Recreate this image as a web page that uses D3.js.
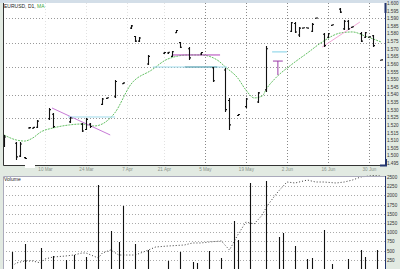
<!DOCTYPE html>
<html>
<head>
<meta charset="utf-8">
<script src="https://cdn.jsdelivr.net/npm/d3@7"></script>
<style>
body { margin: 0; background: #e2eae2; }
svg { display: block; font-family: "Liberation Sans", Arial, sans-serif; }
</style>
</head>
<body>
<div id="chart"></div>
<script>
var width = 400,
height = 269,
left = 3,
right = 385,
priceTop = 3,
priceBottom = 165,
volTop = 176,
volBottom = 269;

// price bars: [day, open, high, low, close]
var bars = [
  [0, 1.5101, 1.5134, 1.5055, 1.5121],
  [3, 1.5080, 1.5088, 1.4970, 1.4990],
  [4, 1.4995, 1.5088, 1.4990, 1.5075],
  [5, 1.4985, 1.4990, 1.4977, 1.4980],
  [6, 1.5180, 1.5187, 1.5174, 1.5182],
  [7, 1.5178, 1.5187, 1.5174, 1.5184],
  [8, 1.5185, 1.5232, 1.5180, 1.5225],
  [11, 1.5240, 1.5311, 1.5232, 1.5300],
  [12, 1.5270, 1.5278, 1.5180, 1.5190],
  [16, 1.5220, 1.5252, 1.5213, 1.5245],
  [19, 1.5205, 1.5213, 1.5154, 1.5160],
  [20, 1.5170, 1.5246, 1.5167, 1.5235],
  [21, 1.5205, 1.5213, 1.5180, 1.5190],
  [24, 1.5335, 1.5377, 1.5331, 1.5370],
  [25, 1.5374, 1.5380, 1.5372, 1.5378],
  [27, 1.5385, 1.5495, 1.5377, 1.5485],
  [29, 1.5470, 1.5478, 1.5469, 1.5476],
  [31, 1.5835, 1.5856, 1.5830, 1.5850],
  [32, 1.5780, 1.5784, 1.5744, 1.5750],
  [33, 1.5750, 1.5777, 1.5744, 1.5770],
  [35, 1.5600, 1.5659, 1.5593, 1.5650],
  [39, 1.5670, 1.5679, 1.5666, 1.5675],
  [40, 1.5672, 1.5679, 1.5666, 1.5677],
  [41, 1.5650, 1.5685, 1.5646, 1.5680],
  [42, 1.5805, 1.5823, 1.5803, 1.5820],
  [43, 1.5740, 1.5744, 1.5705, 1.5710],
  [45, 1.5700, 1.5711, 1.5626, 1.5640],
  [48, 1.5665, 1.5679, 1.5659, 1.5675],
  [51, 1.5575, 1.5580, 1.5482, 1.5490],
  [54, 1.5560, 1.5573, 1.5285, 1.5300],
  [55, 1.5360, 1.5377, 1.5167, 1.5200],
  [57, 1.5262, 1.5272, 1.5259, 1.5268],
  [59, 1.5320, 1.5377, 1.5311, 1.5370],
  [62, 1.5350, 1.5416, 1.5344, 1.5410],
  [64, 1.5430, 1.5718, 1.5416, 1.5700],
  [70, 1.5815, 1.5875, 1.5810, 1.5870],
  [71, 1.5865, 1.5875, 1.5803, 1.5810],
  [72, 1.5790, 1.5843, 1.5777, 1.5835],
  [73, 1.5835, 1.5840, 1.5833, 1.5838],
  [74, 1.5838, 1.5840, 1.5833, 1.5835],
  [75, 1.5815, 1.5869, 1.5810, 1.5860],
  [76, 1.5900, 1.5905, 1.5898, 1.5902],
  [78, 1.5795, 1.5803, 1.5711, 1.5720],
  [79, 1.5775, 1.5803, 1.5770, 1.5798],
  [80, 1.5853, 1.5859, 1.5852, 1.5857],
  [82, 1.5960, 1.5967, 1.5934, 1.5940],
  [83, 1.5830, 1.5888, 1.5823, 1.5880],
  [84, 1.5880, 1.5888, 1.5823, 1.5830],
  [85, 1.5840, 1.5846, 1.5839, 1.5844],
  [87, 1.5800, 1.5810, 1.5744, 1.5750],
  [88, 1.5775, 1.5810, 1.5770, 1.5805],
  [89, 1.5775, 1.5780, 1.5774, 1.5778],
  [90, 1.5785, 1.5790, 1.5711, 1.5720],
  [92, 1.5624, 1.5629, 1.5622, 1.5627]
];

// moving average
var maLine = [
  [0, 1.5134], [3, 1.5101], [5, 1.5094], [7, 1.5114], [9, 1.5154], [12, 1.5180],
  [16, 1.5200], [19, 1.5206], [22, 1.5193], [27, 1.5278], [31, 1.5468], [36, 1.5560],
  [40, 1.5633], [45, 1.5659], [48, 1.5659], [52, 1.5626], [54, 1.5580], [57, 1.5508],
  [59, 1.5429], [61, 1.5377], [63, 1.5390], [64, 1.5436], [66, 1.5501], [70, 1.5593],
  [74, 1.5672], [78, 1.5751], [82, 1.5803], [85, 1.5810], [88, 1.5784], [92, 1.5744]
];

// drawn lines
var trendDown = [[11.7, 1.5311], [25.9, 1.5134]];
var levelLow = [[15.6, 1.5252], [27.1, 1.5252]];
var levelTop = [[41.2, 1.5659], [52.7, 1.5659]];
var levelMid = [[36.3, 1.5580], [54.4, 1.5580]];
var levelMidDark = [[44.1, 1.5580], [52.0, 1.5580]];
var levelRight = [[65.4, 1.5679], [69.0, 1.5679]];
var markT = [[65.6, 1.5619], [68.0, 1.5619], [66.8, 1.5619], [66.8, 1.5527]];
var trendUp = [[77.6, 1.5711], [86.8, 1.5875]];

// volume: [day, volume]
var volumes = [
  [2, 462], [5, 679], [9, 571], [12, 353], [15, 245], [17, 380], [20, 326],
  [23, 2283], [26, 1033], [28, 734], [29, 1712], [32, 679], [35, 516], [40, 217],
  [43, 462], [46, 190], [47, 163], [50, 489], [53, 299], [56, 1304], [57, 788],
  [60, 2337], [64, 2391], [67, 870], [68, 978], [71, 625], [74, 272], [75, 299],
  [78, 1060], [80, 136], [84, 272], [87, 516], [88, 326], [91, 516]
];

var volLine = [
  [2, 82], [3, 163], [5, 217], [7, 217], [9, 163], [10, 272], [12, 326], [15, 353],
  [17, 380], [19, 435], [20, 435], [23, 299], [24, 435], [26, 516], [28, 380],
  [30, 380], [32, 380], [34, 462], [37, 598], [40, 625], [44, 652], [46, 707],
  [48, 707], [50, 734], [53, 761], [55, 516], [57, 924], [59, 1277], [61, 1223],
  [63, 1467], [64, 1685], [66, 1984], [67, 2120], [69, 2364], [71, 2337], [74, 2418],
  [76, 2364], [78, 2364], [81, 2337], [83, 2364], [85, 2418], [87, 2500], [90, 2540],
  [92, 2527]
];

var priceTicks = [1.600, 1.595, 1.590, 1.585, 1.580, 1.575, 1.570, 1.565, 1.560, 1.555, 1.550,
  1.545, 1.540, 1.535, 1.530, 1.525, 1.520, 1.515, 1.510, 1.505, 1.500, 1.495];
var gridLevels = [1.5902, 1.5740, 1.5578, 1.5398, 1.5246];
var volTicks = [250, 500, 750, 1000, 1250, 1500, 1750, 2000, 2250, 2500];
var dateTicks = [10, 20, 30, 39, 49, 59, 69, 79, 89];
var dateLabels = ['10 Mar', '24 Mar', '7 Apr', '21 Apr', '5 May', '19 May', '2 Jun', '16 Jun', '30 Jun'];

var x = d3.scaleLinear().domain([0, 92]).range([4, 381.2]);
var y = d3.scaleLinear().domain([1.495, 1.600]).range([163, 3]);
var yv = d3.scaleLinear().domain([0, 2500]).range([volBottom, 177]);

const svg = d3.select('#chart').
append('svg').
attr('width', width).
attr('height', height);

svg.append('rect').attr('x', 0).attr('y', 0).attr('width', width).attr('height', 3).style('fill', '#d3dee8');

// panels
svg.append('rect').attr('x', left).attr('y', priceTop).attr('width', right - left).attr('height', priceBottom - priceTop).style('fill', '#fff');
svg.append('rect').attr('x', left).attr('y', volTop).attr('width', right - left).attr('height', volBottom - volTop).style('fill', '#fff');

// grid, top panel
svg.selectAll('.hgrid').data(gridLevels).enter().append('line').
attr('x1', left).attr('x2', right).
attr('y1', d => Math.round(y(d)) + 0.5).attr('y2', d => Math.round(y(d)) + 0.5).
style('stroke', '#999').style('stroke-dasharray', '1,2').style('stroke-width', 1);

svg.selectAll('.vgrid').data(dateTicks).enter().append('line').
attr('x1', d => Math.round(x(d)) + 0.5).attr('x2', d => Math.round(x(d)) + 0.5).
attr('y1', priceTop).attr('y2', priceBottom).
style('stroke', (d, i) => i < 4 ? '#e2e2e2' : '#888').style('stroke-dasharray', '1,2');

// grid, volume
svg.selectAll('.vgridv').data(volTicks.slice(0, 9)).enter().append('line').
attr('x1', left).attr('x2', right).
attr('y1', d => Math.round(yv(d)) + 0.5).attr('y2', d => Math.round(yv(d)) + 0.5).
style('stroke', '#aaa').style('stroke-dasharray', '1,2');

// moving average
var line = d3.line().x(d => x(d[0])).y(d => y(d[1])).curve(d3.curveMonotoneX);
svg.append('path').attr('d', line(maLine)).
style('fill', 'none').style('stroke', '#63c063').style('stroke-width', 1).style('stroke-dasharray', '2,1');

// drawn lines
var seg = d3.line().x(d => x(d[0])).y(d => y(d[1]));
function drawLine(pts, color) {
  svg.append('path').attr('d', seg(pts)).
  style('fill', 'none').style('stroke', color).style('stroke-width', 1);
}
drawLine(trendDown, '#c77ad6');
drawLine(levelLow, '#9fdcec');
drawLine(levelMid, '#9fdcec');
drawLine(levelMidDark, '#5a9aa8');
drawLine(levelTop, '#b040b8');
drawLine(levelRight, '#7fd0e6');
drawLine(markT.slice(0, 2), '#9a3aa6');
drawLine(markT.slice(2), '#9a3aa6');
drawLine(trendUp, '#f2a8d8');

// price bars
svg.selectAll('.bar').data(bars).enter().append('path').
attr('class', 'bar').
attr('d', d => {
  var bx = Math.round(x(d[0])) + 0.5;
  var hi = y(d[2]), lo = y(d[3]);
  if (lo - hi < 1) { lo = hi + 1; }
  return 'M' + bx + ',' + hi + 'V' + lo +
  'M' + (bx - 1.5) + ',' + y(d[1]) + 'H' + bx +
  'M' + bx + ',' + y(d[4]) + 'H' + (bx + 1.5);
}).
style('fill', 'none').style('stroke', '#111').style('stroke-width', 1.1);

// volume bars
svg.selectAll('.vol').data(volumes).enter().append('line').
attr('x1', d => Math.round(x(d[0])) + 0.5).attr('x2', d => Math.round(x(d[0])) + 0.5).
attr('y1', d => yv(d[1])).attr('y2', volBottom).
style('stroke', '#111').style('stroke-width', 1.1);

var vline = d3.line().x(d => x(d[0])).y(d => yv(d[1]));
svg.append('path').attr('d', vline(volLine)).
style('fill', 'none').style('stroke', '#222').style('stroke-width', 0.9).style('stroke-dasharray', '1,2');

// frames
svg.append('path').attr('d', 'M' + (left + 0.5) + ',' + priceTop + 'V' + (priceBottom + 0.5) + 'H' + right).
style('fill', 'none').style('stroke', '#333');
svg.append('path').attr('d', 'M' + (right + 0.5) + ',' + priceTop + 'V' + (priceBottom + 1)).
style('stroke', '#22346e');
svg.append('rect').attr('x', right - 0.5).attr('y', priceTop).attr('width', 2).attr('height', 10).style('fill', '#22346e');
svg.append('path').attr('d', 'M' + (right - 5) + ',' + (priceBottom + 0.5) + 'H' + (right + 1) + 'V' + (priceBottom - 6)).
style('fill', 'none').style('stroke', '#22346e').style('stroke-width', 2);
svg.append('rect').attr('x', 25).attr('y', priceBottom - 3).attr('width', 10).attr('height', 6).style('fill', '#fff');

svg.append('path').attr('d', 'M' + (left + 0.5) + ',' + volBottom + 'V' + (volTop + 0.5) + 'H' + right).
style('fill', 'none').style('stroke', '#aab');
svg.append('path').attr('d', 'M' + (right + 0.5) + ',' + volTop + 'V' + volBottom).
style('stroke', '#22346e');

// axes
const yAxis = d3.axisRight(y).tickValues(priceTicks).tickSize(0).tickPadding(2).tickFormat(d3.format('.3f'));
svg.append('g').attr('id', 'y-axis').attr('transform', 'translate(' + right + ',0)').call(yAxis);

const vAxis = d3.axisRight(yv).tickValues(volTicks).tickSize(0).tickPadding(2).tickFormat(d3.format('d'));
svg.append('g').attr('id', 'v-axis').attr('transform', 'translate(' + right + ',0)').call(vAxis);

svg.selectAll('#y-axis text, #v-axis text').style('font-size', '4.6px').style('fill', '#333');
svg.selectAll('#y-axis .domain, #v-axis .domain').remove();

const xAxis = d3.axisBottom(x).tickValues(dateTicks).tickSize(0).tickPadding(2).tickFormat((d, i) => dateLabels[i]);
svg.append('g').attr('id', 'x-axis').attr('transform', 'translate(0,' + (priceBottom + 1) + ')').call(xAxis);
svg.selectAll('#x-axis text').style('font-size', '4.6px').style('fill', '#8a948a');
svg.select('#x-axis .domain').remove();

// titles
var title = svg.append('text').attr('x', 4).attr('y', 8).style('font-size', '5px').style('fill', '#222');
title.append('tspan').text('EURUSD, D1, ');
title.append('tspan').style('fill', '#3aa83a').text('MA');
svg.append('text').attr('x', 4).attr('y', 181).style('font-size', '5px').style('fill', '#222').text('Volume');
</script>
</body>
</html>
